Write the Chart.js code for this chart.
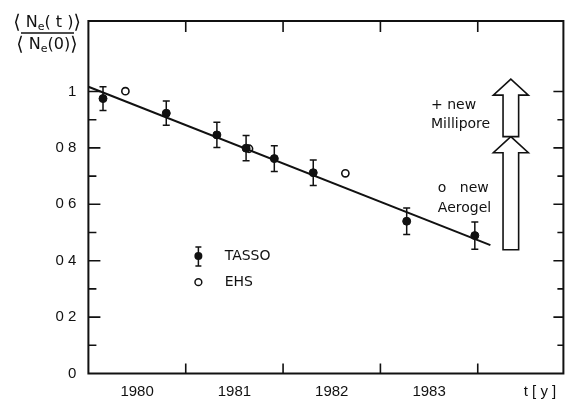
<!DOCTYPE html>
<html lang="en">
<head>
    <meta charset="UTF-8">
    <meta name="viewport" content="width=device-width, initial-scale=1.0">
    <title>Ne(t) / Ne(0) versus time</title>
    <script src="https://cdn.jsdelivr.net/npm/chart.js@4.4.0/dist/chart.umd.min.js"></script>
    <style>
        html, body { margin: 0; padding: 0; background: #fff; }
        canvas { display: block; }
    </style>
</head>
<body>
    <canvas id="chart" width="569" height="403"></canvas>
    <script>
        // TASSO photoelectron yield, normalised to the start value
        const tassoYears = [1980.15, 1980.80, 1981.32, 1981.62, 1981.91, 1982.31, 1983.27, 1983.97];
        const tassoRatio = [0.975, 0.923, 0.846, 0.799, 0.762, 0.712, 0.540, 0.489];
        const tassoError = [0.042, 0.043, 0.045, 0.045, 0.046, 0.045, 0.047, 0.048];

        // EHS points
        const ehsYears = [1980.38, 1981.65, 1982.64];
        const ehsRatio = [1.001, 0.797, 0.710];

        // straight-line fit through the TASSO points
        const fitYears = [1980.0, 1984.13];
        const fitRatio = [1.017, 0.455];

        const xTickLabels = ['1980', '1981', '1982', '1983'];
        const yTickValues = [0, 0.2, 0.4, 0.6, 0.8, 1];
        const yTickLabels = ['0', '0 2', '0 4', '0 6', '0 8', '1'];

        // counter upgrades: shaft bottom, head base and tip (in ratio units)
        const aerogelArrow   = { year: 1984.34, bottom: 0.439, headBase: 0.783, tip: 0.840 };
        const milliporeArrow = { year: 1984.34, bottom: 0.840, headBase: 0.987, tip: 1.044 };

        const ink = '#111';
        const textFont = '14px "DejaVu Sans"';

        function drawArrow(ctx, xs, ys, a) {
            const cx = xs.getPixelForValue(a.year);
            const b = ys.getPixelForValue(a.bottom);
            const h = ys.getPixelForValue(a.headBase);
            const t = ys.getPixelForValue(a.tip);
            ctx.beginPath();
            ctx.moveTo(cx - 7.8, b);
            ctx.lineTo(cx - 7.8, h);
            ctx.lineTo(cx - 17.5, h);
            ctx.lineTo(cx, t);
            ctx.lineTo(cx + 17.5, h);
            ctx.lineTo(cx + 7.8, h);
            ctx.lineTo(cx + 7.8, b);
            ctx.closePath();
            ctx.fillStyle = '#fff';
            ctx.fill();
            ctx.stroke();
        }

        // pieces: [text, font size, baseline shift]
        function drawPieces(ctx, pieces, cx, cy) {
            let w = 0;
            pieces.forEach(p => {
                ctx.font = p[1] + 'px "DejaVu Sans"';
                w += ctx.measureText(p[0]).width;
            });
            let px = cx - w / 2;
            pieces.forEach(p => {
                ctx.font = p[1] + 'px "DejaVu Sans"';
                ctx.fillText(p[0], px, cy + p[2]);
                px += ctx.measureText(p[0]).width;
            });
        }

        const paperFrame = {
            id: 'paperFrame',
            beforeDatasetsDraw(chart) {
                const { ctx, chartArea: a, scales: { x, y } } = chart;
                ctx.save();
                ctx.strokeStyle = ink;
                ctx.lineWidth = 2;
                ctx.strokeRect(a.left, a.top, a.right - a.left, a.bottom - a.top);

                // inward ticks: year boundaries top and bottom, 0.1 steps left and right
                ctx.lineWidth = 1.6;
                ctx.beginPath();
                for (let yr = 1981; yr <= 1984; yr++) {
                    const px = x.getPixelForValue(yr);
                    ctx.moveTo(px, a.bottom); ctx.lineTo(px, a.bottom - 10);
                    ctx.moveTo(px, a.top); ctx.lineTo(px, a.top + 11);
                }
                for (let k = 1; k <= 10; k++) {
                    const py = y.getPixelForValue(k / 10);
                    const major = k % 2 === 0;
                    ctx.moveTo(a.left, py); ctx.lineTo(a.left + (major ? 12 : 8), py);
                    ctx.moveTo(a.right, py); ctx.lineTo(a.right - (major ? 10 : 6), py);
                }
                ctx.stroke();

                // error bars
                ctx.lineWidth = 1.5;
                ctx.beginPath();
                tassoYears.forEach((yr, i) => {
                    const px = x.getPixelForValue(yr);
                    const hi = y.getPixelForValue(tassoRatio[i] + tassoError[i]);
                    const lo = y.getPixelForValue(tassoRatio[i] - tassoError[i]);
                    ctx.moveTo(px, hi); ctx.lineTo(px, lo);
                    ctx.moveTo(px - 3.5, hi); ctx.lineTo(px + 3.5, hi);
                    ctx.moveTo(px - 3.5, lo); ctx.lineTo(px + 3.5, lo);
                });
                ctx.stroke();
                ctx.restore();
            },
            afterDatasetsDraw(chart) {
                const { ctx, scales: { x, y } } = chart;
                ctx.save();
                ctx.strokeStyle = ink;
                ctx.fillStyle = ink;
                ctx.lineWidth = 1.6;

                drawArrow(ctx, x, y, aerogelArrow);
                drawArrow(ctx, x, y, milliporeArrow);

                // notes next to the arrows
                ctx.fillStyle = ink;
                ctx.font = textFont;
                ctx.textBaseline = 'middle';
                ctx.textAlign = 'left';
                const noteX = x.getPixelForValue(1983.52);
                ctx.fillText('+ new', noteX, y.getPixelForValue(0.95));
                ctx.fillText('Millipore', noteX, y.getPixelForValue(0.884));
                const noteX2 = x.getPixelForValue(1983.59);
                ctx.fillText('o   new', noteX2, y.getPixelForValue(0.656));
                ctx.fillText('Aerogel', noteX2, y.getPixelForValue(0.585));

                // key
                const kx = x.getPixelForValue(1981.13);
                const tx = x.getPixelForValue(1981.40);
                const k1 = y.getPixelForValue(0.417);
                const k2 = y.getPixelForValue(0.324);
                ctx.lineWidth = 1.5;
                ctx.beginPath();
                ctx.moveTo(kx, k1 - 9); ctx.lineTo(kx, k1 + 10);
                ctx.moveTo(kx - 3, k1 - 9); ctx.lineTo(kx + 3, k1 - 9);
                ctx.moveTo(kx - 3, k1 + 10); ctx.lineTo(kx + 3, k1 + 10);
                ctx.stroke();
                ctx.beginPath();
                ctx.arc(kx, k1, 4, 0, Math.PI * 2);
                ctx.fill();
                ctx.beginPath();
                ctx.arc(kx, k2, 3.4, 0, Math.PI * 2);
                ctx.fillStyle = '#fff';
                ctx.fill();
                ctx.stroke();
                ctx.fillStyle = ink;
                ctx.fillText('TASSO', tx, k1);
                ctx.fillText('EHS', tx, k2);

                // y axis title as a fraction
                ctx.textAlign = 'left';
                ctx.textBaseline = 'alphabetic';
                drawPieces(ctx, [['\u27E8', 19, 1], [' N', 16, 0], ['e', 11, 3], ['( t )', 16, 0], ['\u27E9', 19, 1]], 47, 27);
                drawPieces(ctx, [['\u27E8', 19, 1], [' N', 16, 0], ['e', 11, 3], ['(0)', 16, 0], ['\u27E9', 19, 1]], 47, 49);
                ctx.lineWidth = 1.7;
                ctx.beginPath();
                ctx.moveTo(21, 33); ctx.lineTo(74, 33);
                ctx.stroke();
                ctx.restore();
            }
        };

        const ctx = document.getElementById('chart').getContext('2d');
        const myChart = new Chart(ctx, {
            type: 'scatter',
            data: {
                datasets: [{
                    label: 'fit',
                    type: 'line',
                    data: fitYears.map((yr, i) => ({ x: yr, y: fitRatio[i] })),
                    borderColor: ink,
                    borderWidth: 2,
                    pointRadius: 0,
                    fill: false
                }, {
                    label: 'TASSO',
                    data: tassoYears.map((yr, i) => ({ x: yr, y: tassoRatio[i] })),
                    pointRadius: 4,
                    backgroundColor: ink,
                    borderColor: ink,
                    borderWidth: 1
                }, {
                    label: 'EHS',
                    data: ehsYears.map((yr, i) => ({ x: yr, y: ehsRatio[i] })),
                    pointRadius: 3.6,
                    backgroundColor: '#fff',
                    borderColor: ink,
                    borderWidth: 1.6
                }]
            },
            options: {
                responsive: false,
                animation: false,
                devicePixelRatio: 1,
                layout: { padding: { top: 12, right: 4, left: 0, bottom: 0 } },
                plugins: {
                    legend: { display: false },
                    tooltip: { enabled: false }
                },
                scales: {
                    x: {
                        type: 'linear',
                        min: 1980,
                        max: 1984.88,
                        grid: { display: false, drawTicks: false },
                        border: { display: false },
                        afterBuildTicks: s => {
                            // labels sit in the middle of each year, unit label at the end
                            s.ticks = xTickLabels.map(l => ({ value: Number(l) + 0.5 }))
                                .concat([{ value: 1984.64 }]);
                        },
                        afterFit: s => { s.height = 29.5; },
                        ticks: {
                            padding: 9,
                            autoSkip: false,
                            maxRotation: 0,
                            color: ink,
                            font: { family: 'Liberation Sans', size: 15 },
                            callback: (v, i) => i < xTickLabels.length ? xTickLabels[i] : 't [ y ]'
                        }
                    },
                    y: {
                        min: 0,
                        max: 1.25,
                        grid: { display: false, drawTicks: false },
                        border: { display: false },
                        afterBuildTicks: s => {
                            s.ticks = yTickValues.map(v => ({ value: v }));
                        },
                        afterFit: s => { s.width = 88.4; },
                        ticks: {
                            padding: 12,
                            autoSkip: false,
                            color: ink,
                            font: { family: 'Liberation Sans', size: 15 },
                            callback: (v, i) => yTickLabels[i]
                        }
                    }
                }
            },
            plugins: [paperFrame]
        });
    </script>
</body>
</html>
